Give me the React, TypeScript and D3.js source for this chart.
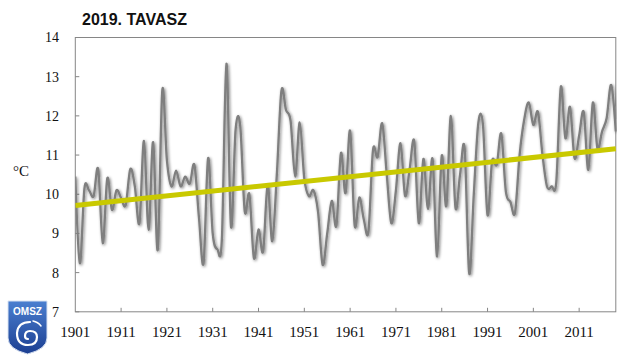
import React from "react";
import * as d3 from "d3";

const TITLE = "2019. TAVASZ";
const UNIT = "°C";
const START_YEAR = 1901;
const temps: number[] = [
  10.45, 8.24, 10.15, 10.1, 9.95, 10.64, 8.75, 10.41, 9.6, 10.1,
  9.9, 9.72, 10.64, 10.2, 9.26, 11.36, 9.09, 11.33, 8.58, 12.66,
  10.87, 10.2, 10.6, 10.2, 10.45, 10.27, 10.75, 9.4, 8.24, 10.92,
  9.0, 8.6, 8.85, 13.33, 9.17, 11.65, 11.75, 9.56, 10.0, 8.37,
  9.1, 8.54, 10.25, 8.8, 10.5, 12.64, 12.15, 11.87, 10.45, 11.83,
  10.4, 9.95, 10.1, 9.55, 8.2, 9.0, 9.83, 9.2, 11.05, 10.03,
  11.62, 9.2, 9.92, 9.35, 9.05, 11.13, 10.95, 11.81, 10.5, 9.26,
  10.1, 11.3, 9.96, 10.65, 11.35, 9.26, 10.9, 9.62, 10.9, 8.41,
  10.98, 9.7, 12.0, 9.66, 10.5, 11.17, 7.98, 10.0, 11.83, 11.77,
  9.47, 10.85, 10.75, 11.55, 10.07, 9.8, 9.53, 11.0, 11.9, 12.34,
  11.77, 12.1, 11.0, 10.19, 10.2, 10.3, 12.74, 11.43, 12.23, 10.92,
  11.5, 12.1, 10.62, 12.34, 11.17, 11.6, 11.94, 12.79, 11.6,
];
const trendYears = [1901, 2019];
const trendValues = [9.71, 11.16];
const xTickYears = [1901, 1911, 1921, 1931, 1941, 1951, 1961, 1971, 1981, 1991, 2001, 2011];
const yTicks = [7, 8, 9, 10, 11, 12, 13, 14];

export default function App() {
  const W = 640, H = 357;
  const left = 75.3, right = 615.8, top = 37.5, bottom = 311.8;
  const years = temps.map((_, i) => START_YEAR + i);
  const x = d3.scaleLinear().domain([years[0], years[years.length - 1]]).range([left, right]);
  const y = d3.scaleLinear().domain([7, 14]).range([bottom, top]);

  const line = d3.line<number>()
    .x((_, i) => x(years[i]))
    .y((d) => y(d))
    .curve(d3.curveCardinal.tension(0));
  const pathD = line(temps) || "";

  const trendLine = d3.line<number>()
    .x((_, i) => x(trendYears[i]))
    .y((d) => y(d));
  const trendD = trendLine(trendValues) || "";

  const serif = "'Liberation Serif', 'Times New Roman', serif";
  const axisColor = "#868686";

  return (
    <svg width={W} height={H} style={{ position: "absolute", left: 0, top: 0, background: "#fff" }}>
      <defs>
        <filter id="shadow" x="-5%" y="-5%" width="110%" height="110%">
          <feGaussianBlur in="SourceAlpha" stdDeviation="1.7" result="b" />
          <feOffset in="b" dx="0.8" dy="1.2" result="o" />
          <feComponentTransfer in="o" result="s">
            <feFuncA type="linear" slope="0.5" />
          </feComponentTransfer>
          <feMerge>
            <feMergeNode in="s" />
            <feMergeNode in="SourceGraphic" />
          </feMerge>
        </filter>
        <linearGradient id="logoGrad" x1="0" y1="0" x2="0" y2="1">
          <stop offset="0" stopColor="#4a7fd0" />
          <stop offset="1" stopColor="#1c3f92" />
        </linearGradient>
        <clipPath id="plotClip">
          <rect x={left} y={top - 5} width={right - left + 1} height={bottom - top + 10} />
        </clipPath>
      </defs>
      <rect x={0} y={0} width={W} height={H} fill="#fff" />

      <text x={82} y={25} fontFamily="'Liberation Sans', Arial, sans-serif" fontWeight="bold" fontSize={16} fill="#111">
        {TITLE}
      </text>

      <rect x={left} y={top} width={right - left} height={bottom - top} fill="none" stroke={axisColor} strokeWidth={1} />

      {yTicks.map((t) => (
        <g key={"y" + t}>
          <line x1={left} x2={left + 4} y1={y(t)} y2={y(t)} stroke={axisColor} strokeWidth={1} />
          <text x={59} y={y(t)} dy="0.35em" textAnchor="end" fontFamily={serif} fontSize={14} fill="#111">
            {t}
          </text>
        </g>
      ))}

      {xTickYears.map((yr) => (
        <g key={"x" + yr}>
          {yr !== xTickYears[0] && (
            <line x1={x(yr)} x2={x(yr)} y1={bottom} y2={bottom - 4} stroke={axisColor} strokeWidth={1} />
          )}
          <text x={x(yr)} y={337} textAnchor="middle" fontFamily={serif} fontSize={15} fill="#111">
            {yr}
          </text>
        </g>
      ))}

      <text x={13} y={176} fontFamily={serif} fontSize={15} fill="#111">
        {UNIT}
      </text>

      <g clipPath="url(#plotClip)">
        <path d={pathD} fill="none" stroke="#7f7f7f" strokeWidth={2.3} filter="url(#shadow)" strokeLinejoin="round" />
        <path d={trendD} fill="none" stroke="#c9c900" strokeWidth={5} />
      </g>

      <g>
        <path d="M8,301 L47,301 L47,338 Q47,349 27.5,354 Q8,349 8,338 Z" fill="url(#logoGrad)" stroke="#d8e2f2" strokeWidth={1} />
        <text x={27.5} y={315} textAnchor="middle" fontFamily="'Liberation Sans', Arial, sans-serif" fontWeight="bold" fontSize={10} fill="#fff">
          OMSZ
        </text>
        <path d="M30,322 Q18,322 17,333 Q17,345 28,345 Q37,345 37,337 Q37,331 30,331 Q25,331 25,336 Q25,339 28,339"
          fill="none" stroke="#fff" strokeWidth={2.2} strokeLinecap="round" />
        <path d="M33,321 Q38,322 41,326" fill="none" stroke="#fff" strokeWidth={1.5} strokeLinecap="round" />
      </g>
    </svg>
  );
}
